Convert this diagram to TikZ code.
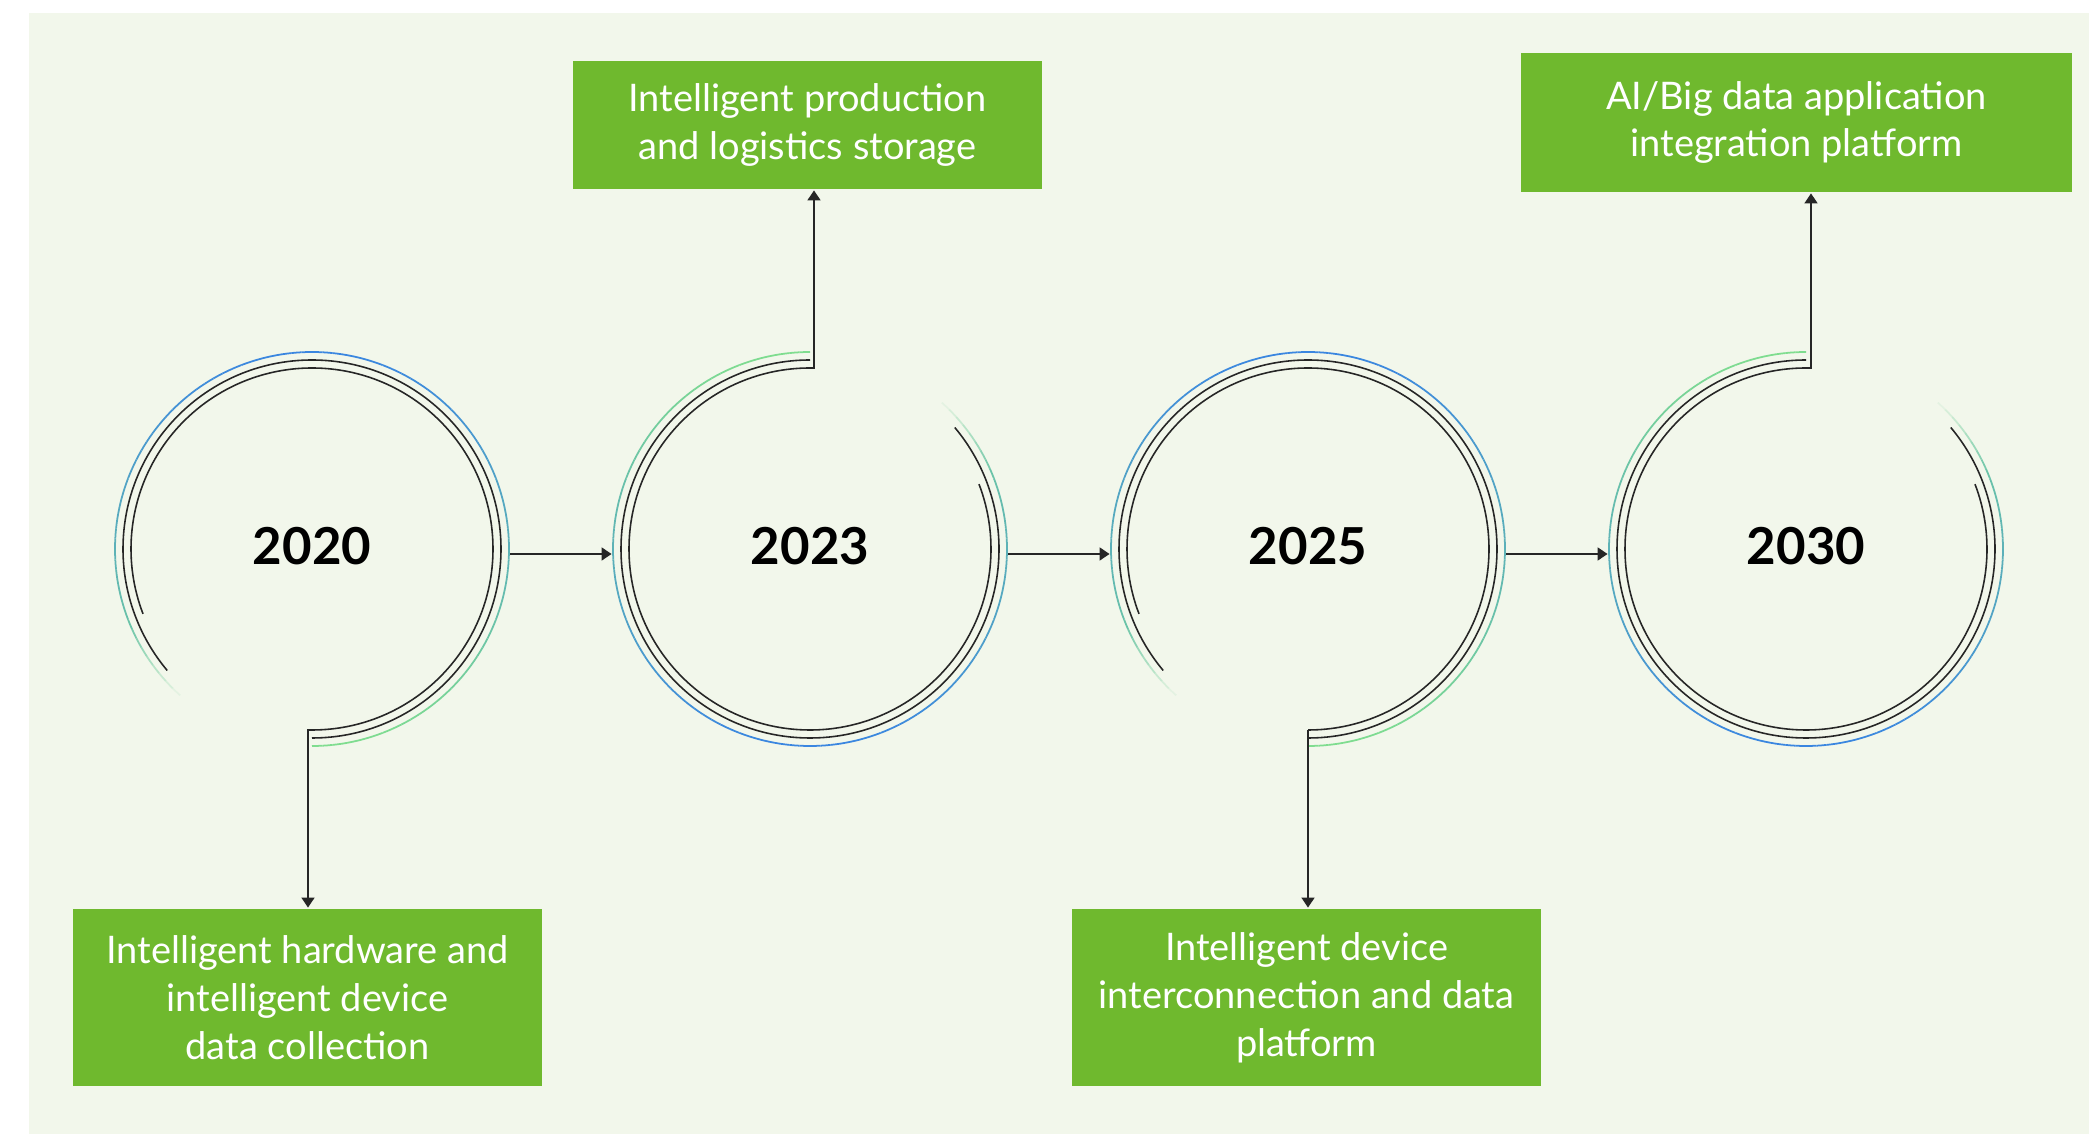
\documentclass[tikz,border=0pt]{standalone}
\usepackage{fontspec}
\setmainfont{Lato}
\usetikzlibrary{arrows.meta}
\definecolor{pagebg}{HTML}{F2F7EB}
\definecolor{boxgreen}{HTML}{6FB92E}
\definecolor{ringblue}{HTML}{3A86E0}
\definecolor{ringgreen}{HTML}{80DE8E}

\begin{document}
\begin{tikzpicture}[thick,
  yearring/.style={circle, minimum size=3.94cm, inner sep=0pt, text depth=0.06cm, font=\bfseries\fontsize{14.5}{16}\selectfont},
  stagebox/.style={rectangle, fill=boxgreen, text=white, align=center, inner sep=0pt, font=\fontsize{10.8}{13.6}\selectfont},
  ringline/.style={line width=0.45pt, black!85},
  flowarrow/.style={line width=0.45pt, black!85, -{Triangle[length=1mm,width=1.3mm]}}]

\fill[white] (0,0) rectangle (20.89,11.34);
\fill[pagebg] (0.29,0) rectangle (20.89,11.21);
\useasboundingbox (0,0) rectangle (20.89,11.34);

% years
\node [yearring] (y2020) at (3.12,5.85) {2020};
\node [yearring] (y2023) at (8.10,5.85) {2023};
\node [yearring] (y2025) at (13.08,5.85) {2025};
\node [yearring] (y2030) at (18.06,5.85) {2030};

% stages
\node [stagebox, minimum width=4.69cm, minimum height=1.77cm] (d2020) at (3.075,1.365)
  {Intelligent hardware and\\intelligent device\\data collection};
\node [stagebox, minimum width=4.69cm, minimum height=1.28cm] (d2023) at (8.075,10.09)
  {Intelligent production\\and logistics storage};
\node [stagebox, minimum width=4.69cm, minimum height=1.77cm] (d2025) at (13.065,1.365)
  {Intelligent device\\interconnection and data\\platform};
\node [stagebox, minimum width=5.51cm, minimum height=1.39cm] (d2030) at (17.965,10.115)
  {AI/Big data application\\integration platform};

% outer rings, blue to green
\foreach \c/\s/\sg in {y2020/-90/-1, y2023/90/1, y2025/-90/-1, y2030/90/1} {
  \foreach \i in {0,...,105} {
    \pgfmathsetmacro\a{\s+3*\i}
    \pgfmathtruncatemacro\g{50*(1+\sg*sin(\a+1.5))}
    \pgfmathsetmacro\o{min(1,(106-\i)/9)}
    \draw [line width=0.5pt, ringgreen!\g!ringblue, draw opacity=\o]
      ([shift={(\a:1.97)}]\c.center) arc [start angle=\a, delta angle=3, radius=1.97];
  }
}

% inner rings
\foreach \c/\s/\m/\n in {y2020/-90/220/201, y2023/90/400/381, y2025/-90/220/201, y2030/90/400/381} {
  \draw [ringline] ([shift={(\s:1.89)}]\c.center) arc [start angle=\s, end angle=\m, radius=1.89];
  \draw [ringline] ([shift={(\s:1.81)}]\c.center) arc [start angle=\s, end angle=\n, radius=1.81];
}

% timeline
\draw [flowarrow] ([yshift=-0.05cm]y2020.east) -- ([yshift=-0.05cm]y2023.west);
\draw [flowarrow] ([yshift=-0.05cm]y2023.east) -- ([yshift=-0.05cm]y2025.west);
\draw [flowarrow] ([yshift=-0.05cm]y2025.east) -- ([yshift=-0.05cm]y2030.west);

\draw [flowarrow] ([yshift=-1.81cm]y2020.center) -- ++(-0.04,0) -- ([xshift=-0.04cm]d2020.north -| y2020.center);
\draw [flowarrow] ([yshift=1.81cm]y2023.center) -- ++(0.04,0) -- ([xshift=0.04cm]d2023.south -| y2023.center);
\draw [flowarrow] ([yshift=-1.81cm]y2025.center) -- (d2025.north -| y2025.center);
\draw [flowarrow] ([yshift=1.81cm]y2030.center) -- ++(0.05,0) -- ([xshift=0.05cm]d2030.south -| y2030.center);
\end{tikzpicture}
\end{document}
